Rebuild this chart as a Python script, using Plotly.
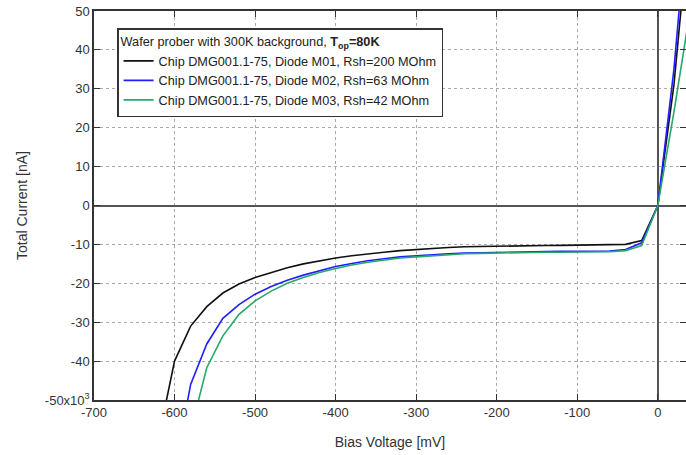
import plotly.graph_objects as go

bias_mv = [-620, -600, -580, -560, -540, -520, -500, -480, -460, -440, -420, -400,
           -380, -360, -340, -320, -300, -280, -260, -240, -220, -200, -180, -160,
           -140, -120, -100, -80, -60, -40, -20, 0, 20, 40]

current_m01 = [-60, -40, -31, -26, -22.5, -20.2, -18.5, -17.2, -16.0, -15.0, -14.2, -13.5,
               -12.9, -12.4, -12.0, -11.6, -11.3, -11.0, -10.8, -10.6, -10.5, -10.4, -10.35, -10.3,
               -10.3, -10.25, -10.2, -10.2, -10.15, -10.0, -9.0, 0, 31, 75]

current_m02 = [-90, -68, -46, -35.6, -29, -25.5, -22.8, -20.8, -19.2, -17.9, -16.7, -15.7,
               -14.9, -14.2, -13.7, -13.2, -12.9, -12.6, -12.4, -12.2, -12.1, -12.0, -11.95, -11.9,
               -11.85, -11.8, -11.8, -11.75, -11.7, -11.3, -9.6, 0, 35, 82]

current_m03 = [-110, -85, -58, -41.7, -33.5, -28, -24.5, -22.0, -20.0, -18.5, -17.2, -16.2,
               -15.3, -14.6, -14.0, -13.5, -13.2, -12.9, -12.6, -12.4, -12.3, -12.2, -12.1, -12.05,
               -12.0, -12.0, -12.0, -11.95, -11.9, -11.6, -10.3, 0, 24, 50]

series_names = ["Chip DMG001.1-75, Diode M01, Rsh=200 MOhm",
                "Chip DMG001.1-75, Diode M02, Rsh=63 MOhm",
                "Chip DMG001.1-75, Diode M03, Rsh=42 MOhm"]
series_colors = ["#111111", "#1f1fff", "#2aa86a"]

x_ticks = [-700, -600, -500, -400, -300, -200, -100, 0]
x_ticktext = ["-700", "-600", "-500", "-400", "-300", "-200", "-100", "0"]
y_ticks = [50, 40, 30, 20, 10, 0, -10, -20, -30, -40, -50]
y_ticktext = ["50", "40", "30", "20", "10", "0", "-10", "-20", "-30", "-40", "-50x10<sup>3</sup>"]

fig = go.Figure()
for name, ys, col in zip(series_names, [current_m01, current_m02, current_m03], series_colors):
    fig.add_trace(go.Scatter(x=bias_mv, y=ys, mode="lines", name=name,
                             line=dict(color=col, width=1.6)))

font_family = "Liberation Sans, Arial, sans-serif"
fig.update_layout(
    width=686, height=455,
    margin=dict(l=94, r=0, t=11, b=55),
    paper_bgcolor="white", plot_bgcolor="white",
    font=dict(family=font_family, size=13, color="#333333"),
    showlegend=True,
    legend=dict(
        x=0.039, y=0.956, xanchor="left", yanchor="top",
        bgcolor="white", bordercolor="#333333", borderwidth=1.5,
        font=dict(size=12.7, color="#222222"),
        title=dict(text="Wafer prober with 300K background, <b>T<sub>op</sub>=80K</b>",
                   font=dict(size=12.7, color="#222222"), side="top"),
        tracegroupgap=0, itemwidth=30,
    ),
    xaxis=dict(
        range=[-700, 35], tickvals=x_ticks, ticktext=x_ticktext, ticks="inside", ticklen=6,
        tickcolor="#333", automargin=False, ticklabeloverflow="allow",
        showline=True, linecolor="#333333", linewidth=1.5, mirror="ticks",
        showgrid=True, gridcolor="#aaaaaa", griddash="dot", gridwidth=1,
        zeroline=True, zerolinecolor="#555555", zerolinewidth=1.5,
        title=dict(text="Bias Voltage [mV]", font=dict(size=14, color="#333"), standoff=18),
        tickfont=dict(size=13, color="#333"),
    ),
    yaxis=dict(
        range=[-50, 50], tickvals=y_ticks, ticktext=y_ticktext, ticks="inside", ticklen=6,
        tickcolor="#333", automargin=False, ticklabeloverflow="allow",
        showline=True, linecolor="#333333", linewidth=1.5, mirror="ticks",
        showgrid=True, gridcolor="#aaaaaa", griddash="dot", gridwidth=1,
        zeroline=True, zerolinecolor="#555555", zerolinewidth=1.5,
        title=dict(text="Total Current [nA]", font=dict(size=14, color="#333"), standoff=14),
        tickfont=dict(size=13, color="#333"),
    ),
)

fig.write_html("out.html",
               config={"displayModeBar": False},
               post_script="document.body.style.margin='0';document.body.style.overflow='hidden';")
